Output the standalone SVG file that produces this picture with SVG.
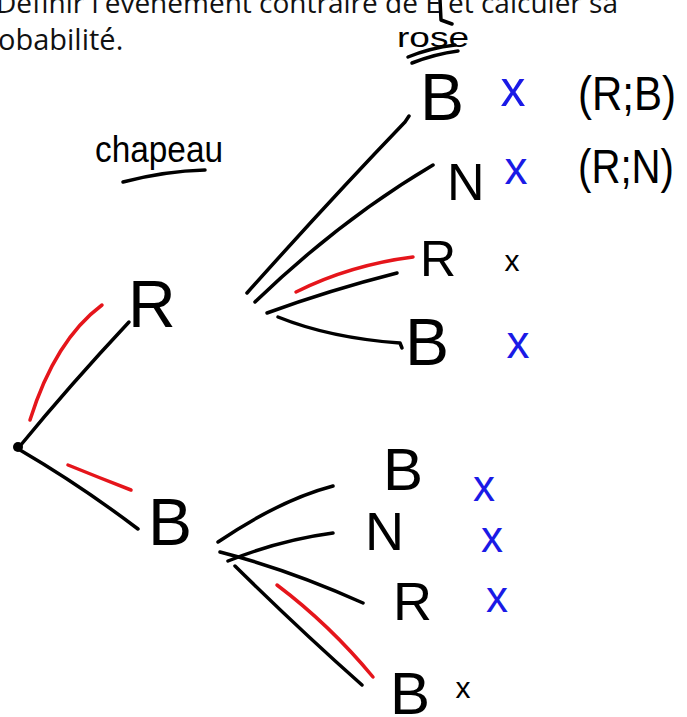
<svg xmlns="http://www.w3.org/2000/svg" width="687" height="717" viewBox="0 0 687 717">
<style>
.bg{fill:#fff}
.ink{fill:none;stroke:#000;stroke-width:3.5;stroke-linecap:round;stroke-linejoin:round}
.red{fill:none;stroke:#e5151b;stroke-width:3.5;stroke-linecap:round}
.lbl{font-family:"Liberation Sans",Arial,sans-serif;fill:#000}
.blue{font-family:"Liberation Sans",Arial,sans-serif;fill:#1a1ae6}
.print{font-family:"Open Sans","Liberation Sans",sans-serif;fill:#111}
</style>
<rect class="bg" width="687" height="717"/>
<g id="header">
<text class="print" x="-4" y="13" font-size="28">Définir l'événement contraire de E et calculer sa</text>
<text class="print" x="-2" y="50" font-size="29">obabilité.</text>
</g>
<g id="annot-chapeau">
<text class="lbl" x="95" y="162" font-size="36" textLength="128" lengthAdjust="spacingAndGlyphs">chapeau</text>
<path class="ink" d="M123 182 Q165 171 205 170" stroke-width="3"/>
</g>
<g id="annot-rose">
<path class="ink" d="M440 0 L441 20 L452 24" stroke-width="3"/>
<text class="lbl" x="397" y="47" font-size="28" textLength="72" lengthAdjust="spacingAndGlyphs">rose</text>
<path class="ink" d="M408 57 Q430 48 455 45 M412 63 Q435 54 458 51" stroke-width="3"/>
</g>
<g id="connectors">
<circle cx="18" cy="447" r="5" fill="#000"/>
<path class="ink" d="M20 446 Q70 385 129 322"/>
<path class="ink" d="M20 450 Q80 485 138 529"/>
<path class="red" d="M30 420 Q55 340 102 305"/>
<path class="red" d="M68 465 Q100 478 131 490"/>
<path class="ink" d="M247 293 Q330 200 405 122 L409 116"/>
<path class="ink" d="M255 302 Q340 220 433 165"/>
<path class="red" d="M296 292 Q350 265 413 257"/>
<path class="ink" d="M267 313 Q330 290 397 273"/>
<path class="ink" d="M278 317 Q330 338 400 343 L402 348"/>
<path class="ink" d="M218 542 Q280 500 333 486"/>
<path class="ink" d="M228 561 Q280 540 333 533"/>
<path class="ink" d="M220 552 Q290 570 363 603"/>
<path class="ink" d="M235 566 Q300 630 362 685"/>
<path class="red" d="M277 585 Q330 625 373 677"/>
</g>
<g id="node-R"><text class="lbl" x="128" y="327" font-size="66">R</text></g>
<g id="node-B"><text class="lbl" x="148" y="545" font-size="66">B</text></g>
<g id="node-RB"><text class="lbl" x="420" y="120" font-size="66">B</text>
<text class="blue" x="513" y="106" font-size="50" text-anchor="middle">x</text>
<text class="lbl" x="578" y="110" font-size="48" textLength="98" lengthAdjust="spacingAndGlyphs">(R;B)</text></g>
<g id="node-RN"><text class="lbl" x="447" y="200" font-size="52">N</text>
<text class="blue" x="516" y="184" font-size="46" text-anchor="middle">x</text>
<text class="lbl" x="578" y="183" font-size="48" textLength="96" lengthAdjust="spacingAndGlyphs">(R;N)</text></g>
<g id="node-RR"><text class="lbl" x="420" y="276" font-size="50">R</text>
<text class="lbl" x="512" y="271" font-size="30" text-anchor="middle">x</text></g>
<g id="node-RB2"><text class="lbl" x="405" y="365" font-size="66">B</text>
<text class="blue" x="518" y="358" font-size="46" text-anchor="middle">x</text></g>
<g id="node-BB"><text class="lbl" x="383" y="490" font-size="60">B</text>
<text class="blue" x="484" y="501" font-size="44" text-anchor="middle">x</text></g>
<g id="node-BN"><text class="lbl" x="365" y="550" font-size="54">N</text>
<text class="blue" x="492" y="552" font-size="44" text-anchor="middle">x</text></g>
<g id="node-BR"><text class="lbl" x="393" y="620" font-size="54">R</text>
<text class="blue" x="497" y="612" font-size="44" text-anchor="middle">x</text></g>
<g id="node-BB2"><text class="lbl" x="390" y="714" font-size="60">B</text>
<text class="lbl" x="463" y="698" font-size="30" text-anchor="middle">x</text></g>
</svg>
